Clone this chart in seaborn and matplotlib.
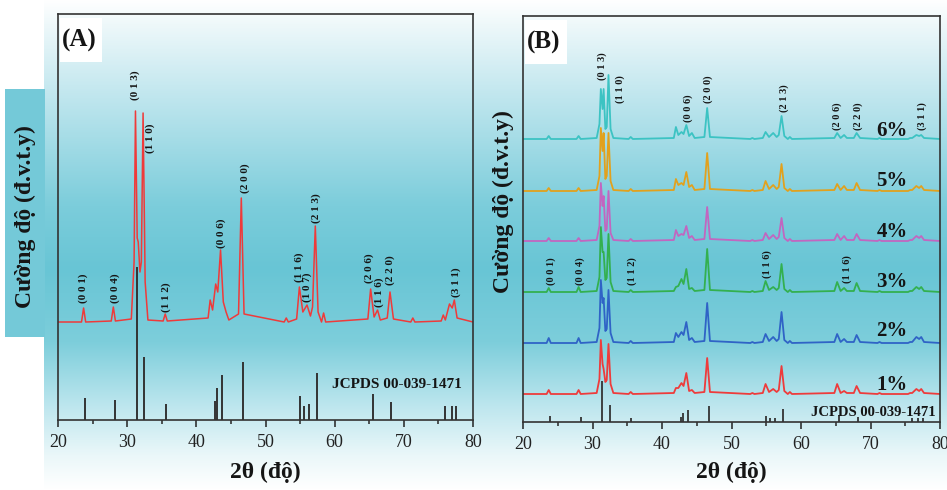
import numpy as np
import pandas as pd
import matplotlib
matplotlib.use("Agg")
import matplotlib.pyplot as plt
import seaborn as sns
from matplotlib.colors import LinearSegmentedColormap
from matplotlib.patches import Rectangle
from matplotlib.ticker import MultipleLocator

# 2-theta points of the traced patterns (shared by every trace)
TWO_THETA = [20.0, 23.4, 23.7, 24.0, 27.7, 28.0, 28.3, 30.6, 31.0, 31.2,
             31.45, 31.6, 31.85, 32.05, 32.3, 32.6, 33.0, 35.2, 35.5, 35.8,
             41.7, 42.0, 42.35, 42.8, 43.1, 43.5, 43.9, 44.3, 44.7, 46.1,
             46.5, 46.9, 52.7, 53.0, 53.3, 54.5, 54.9, 55.4, 56.0, 56.5,
             56.8, 57.2, 57.6, 58.1, 58.4, 58.7, 64.8, 65.2, 65.7, 66.2,
             66.6, 67.6, 68.0, 68.5, 71.0, 71.3, 71.6, 75.4, 75.7, 76.0,
             76.6, 77.0, 77.3, 77.7, 80.0]

# panel A : single sample (intensity above its baseline)
INT_A = [0, 0, 14, 0, 1, 15, 1, 3, 60, 211, 84, 80, 50, 60, 209, 40, 2, 1, 8, 1,
         4, 22, 12, 38, 30, 72, 20, 10, 2, 8, 124, 8, 0, 4, 0, 3, 35, 10, 17, 6,
         15, 96, 10, 0, 9, 0, 3, 33, 5, 12, 2, 4, 30, 3, 0, 4, 0, 1, 7, 2,
         18, 14, 22, 4, 0]
BASE_A = 98

# panel B : doping series
SAMPLES = ["1%", "2%", "3%", "4%", "5%", "6%"]
BASES_B = [28, 79, 130, 181, 231, 283]
INT_1 = [0, 0, 4, 0, 0, 4, 0, 1, 15, 54, 30, 25, 12, 14, 50, 10, 1, 0, 2, 0,
         1, 6, 6, 11, 8, 21, 3, 4, 1, 2, 36, 2, 0, 1, 0, 1, 10, 2, 5, 2,
         4, 28, 3, 0, 2, 0, 1, 10, 1, 3, 1, 1, 8, 1, 0, 1, 0, 0, 1, 1,
         5, 3, 5, 1, 0]
INT_2 = [0, 0, 5, 0, 0, 5, 0, 1, 15, 63, 40, 45, 12, 14, 53, 10, 1, 0, 2, 0,
         1, 10, 6, 11, 8, 21, 3, 5, 1, 2, 40, 2, 0, 1, 0, 1, 9, 2, 6, 2,
         4, 31, 3, 0, 2, 0, 1, 9, 1, 4, 1, 1, 8, 1, 0, 1, 0, 0, 1, 1,
         6, 4, 6, 1, 0]
INT_3 = [0, 0, 4, 0, 0, 5, 0, 1, 15, 65, 40, 40, 12, 14, 58, 10, 1, 0, 2, 0,
         1, 5, 6, 13, 8, 23, 3, 4, 1, 2, 43, 2, 0, 1, 0, 1, 11, 2, 5, 2,
         4, 28, 3, 0, 2, 0, 1, 10, 1, 4, 1, 1, 9, 1, 0, 1, 0, 0, 1, 1,
         5, 3, 5, 1, 0]
INT_4 = [0, 0, 3, 0, 0, 3, 0, 1, 15, 58, 35, 45, 10, 12, 50, 8, 1, 0, 2, 0,
         1, 11, 5, 7, 6, 15, 3, 5, 1, 2, 34, 2, 0, 1, 0, 1, 8, 2, 6, 2,
         4, 23, 3, 0, 2, 0, 1, 7, 1, 5, 1, 1, 7, 1, 0, 1, 0, 0, 1, 1,
         5, 3, 5, 1, 0]
INT_5 = [0, 0, 3, 0, 0, 3, 0, 1, 15, 63, 40, 58, 12, 15, 58, 10, 1, 0, 2, 0,
         1, 12, 6, 8, 6, 19, 4, 6, 1, 2, 38, 2, 0, 1, 0, 1, 10, 2, 6, 2,
         4, 27, 3, 0, 2, 0, 1, 7, 1, 5, 1, 1, 8, 1, 0, 1, 0, 0, 1, 1,
         5, 3, 5, 1, 0]
INT_6 = [0, 0, 3, 0, 0, 3, 0, 1, 15, 50, 30, 50, 10, 12, 64, 10, 1, 0, 2, 0,
         1, 12, 4, 7, 5, 14, 3, 6, 1, 2, 31, 2, 0, 1, 0, 1, 7, 2, 6, 2,
         4, 23, 3, 0, 2, 0, 1, 6, 1, 4, 1, 1, 6, 1, 0, 1, 0, 0, 1, 1,
         4, 3, 4, 1, 0]
COLORS_B = ["#ee3b3b", "#2f63c6", "#33b04f", "#c266c0", "#e2a11d", "#3cc3c3"]

# reference pattern JCPDS 00-039-1471
JCPDS_POS = [23.9, 28.3, 31.4, 32.5, 35.6, 42.7, 43.0, 43.7, 46.7, 55.0,
             55.6, 56.3, 57.4, 65.5, 68.2, 75.9, 76.9, 77.5]
JCPDS_INT = [22, 20, 153, 63, 16, 19, 32, 45, 58, 24,
             14, 16, 47, 26, 18, 14, 14, 14]

# Miller indices labels (x, y of label bottom)
HKL_A = ["(0 0 1)", "(0 0 4)", "(0 1 3)", "(1 1 0)", "(1 1 2)", "(0 0 6)", "(2 0 0)",
         "(1 1 6)", "(1 0 7)", "(2 1 3)", "(2 0 6)", "(1 1 6)", "(2 2 0)", "(3 1 1)"]
HKL_A_X = [23.7, 28.2, 31.1, 33.4, 35.6, 43.6, 47.0, 54.8, 56.0, 57.4, 65.0, 66.4, 68.0, 77.6]
HKL_A_Y = [117, 117, 320, 267, 108, 172, 227, 138, 118, 197, 137, 113, 135, 123]

HKL_B = ["(0 1 3)", "(1 1 0)", "(0 0 6)", "(2 0 0)", "(2 1 3)", "(2 0 6)", "(2 2 0)",
         "(3 1 1)", "(0 0 1)", "(0 0 4)", "(1 1 2)", "(1 1 6)", "(1 1 6)"]
HKL_B_X = [31.4, 34.0, 43.7, 46.6, 57.6, 65.2, 68.2, 77.4, 24.0, 28.2, 35.7, 55.1, 66.6]
HKL_B_Y = [342, 319, 300, 319, 310, 292, 292, 292, 137, 137, 137, 144, 139]
PCT_Y = [32, 86, 135, 185, 236, 286]

sns.set_theme(style="ticks")
plt.rcParams['font.family'] = ['Liberation Serif', 'DejaVu Serif']

W, H = 947, 490
fig = plt.figure(figsize=(W / 100, H / 100), dpi=100)

# background gradient
bg = fig.add_axes([0, 0, 1, 1], zorder=-10)
grad_cmap = LinearSegmentedColormap.from_list(
    "bg", [(0.0, "#ffffff"), (0.05, "#eef8fa"), (0.2, "#bfe6ee"), (0.42, "#7ccddb"),
           (0.55, "#68c5d5"), (0.7, "#7dcedb"), (0.83, "#bde6ee"), (0.93, "#eaf7f9"),
           (1.0, "#ffffff")])
grad = np.linspace(0, 1, 256)[:, None]
bg.imshow(grad, cmap=grad_cmap, aspect="auto", extent=[44 / W, 1, 0, 1], origin="upper")
bg.set_xlim(0, 1)
bg.set_ylim(0, 1)
bg.axis("off")
fig.patches.append(Rectangle((5 / W, 1 - 337 / H), 40 / W, 248 / H,
                             transform=fig.transFigure, facecolor="#74c9d8",
                             edgecolor="none", zorder=-5))

ax_a = fig.add_axes([58 / W, 70 / H, 415 / W, 406 / H])
ax_b = fig.add_axes([523 / W, 68 / H, 417 / W, 406 / H])

for ax in (ax_a, ax_b):
    ax.patch.set_alpha(0)
    ax.set_xlim(20, 80)
    ax.set_ylim(0, 406)
    ax.set_yticks([])
    ax.xaxis.set_major_locator(MultipleLocator(10))
    ax.xaxis.set_minor_locator(MultipleLocator(5))
    ax.tick_params(axis="x", which="major", direction="out", length=5, width=1.1,
                   pad=5, labelsize=13, colors="#222222")
    ax.tick_params(axis="x", which="minor", direction="out", length=3, width=1.1)
    for s in ax.spines.values():
        s.set_linewidth(1.2)
        s.set_color("#333333")
    ax.set_xlabel("")
    ax.set_ylabel("")

# ---- panel A
df_a = pd.DataFrame({"x": TWO_THETA, "y": np.array(INT_A) + BASE_A})
sns.lineplot(data=df_a, x="x", y="y", ax=ax_a, color="#ef3a3a", lw=1.1, errorbar=None)
ax_a.vlines(JCPDS_POS, 0, JCPDS_INT, color="#333333", lw=1.4, zorder=1)
for lab, x, y in zip(HKL_A, HKL_A_X, HKL_A_Y):
    ax_a.text(x, y, lab, rotation=90, ha="center", va="bottom", fontsize=8,
              fontweight="bold", color="#151515")
ax_a.text(78.4, 32, "JCPDS 00-039-1471", ha="right", va="baseline", fontsize=11,
          fontweight="bold", color="#151515")

# ---- panel B
for name, base, vals, col in zip(SAMPLES, BASES_B,
                                 [INT_1, INT_2, INT_3, INT_4, INT_5, INT_6], COLORS_B):
    df_b = pd.DataFrame({"x": TWO_THETA, "y": np.array(vals) + base})
    sns.lineplot(data=df_b, x="x", y="y", ax=ax_b, color=col, lw=1.3, errorbar=None)
ax_b.vlines(JCPDS_POS, 0, np.array(JCPDS_INT) * 0.27, color="#333333", lw=1.3, zorder=1)
for lab, x, y in zip(HKL_B, HKL_B_X, HKL_B_Y):
    ax_b.text(x, y, lab, rotation=90, ha="center", va="bottom", fontsize=7.5,
              fontweight="bold", color="#151515")
for name, y in zip(SAMPLES, PCT_Y):
    ax_b.text(73.1, y, name, ha="center", va="baseline", fontsize=15,
              fontweight="bold", color="#151515")
ax_b.text(79.3, 6, "JCPDS 00-039-1471", ha="right", va="baseline", fontsize=10.5,
          fontweight="bold", color="#151515")

for ax in (ax_a, ax_b):
    ax.set_xlabel("")
    ax.set_ylabel("")

# panel tags in white boxes
for ax, tag, wpx in ((ax_a, "(A)", 415), (ax_b, "(B)", 417)):
    ax.add_patch(Rectangle((2 / wpx, 1 - 48 / 406), 42 / wpx, 44 / 406,
                           transform=ax.transAxes, facecolor="white",
                           edgecolor="none", zorder=3))
    ax.text(4 / wpx, 1 - 26 / 406, tag, transform=ax.transAxes, ha="left",
            va="center", fontsize=18, fontweight="bold", color="#151515", zorder=4)

# axis titles
for xc in (265, 731):
    fig.text(xc / W, 1 - 472 / H, "2θ (độ)", ha="center", va="center",
             fontsize=17, fontweight="bold", color="#151515")
fig.text(25 / W, 1 - 217 / H, "Cường độ (đ.v.t.y)", rotation=90, ha="center",
         va="center", fontsize=17, fontweight="bold", color="#151515")
fig.text(503 / W, 1 - 202 / H, "Cường độ (đ.v.t.y)", rotation=90, ha="center",
         va="center", fontsize=17, fontweight="bold", color="#151515")

fig.savefig("out.png", dpi=100)
